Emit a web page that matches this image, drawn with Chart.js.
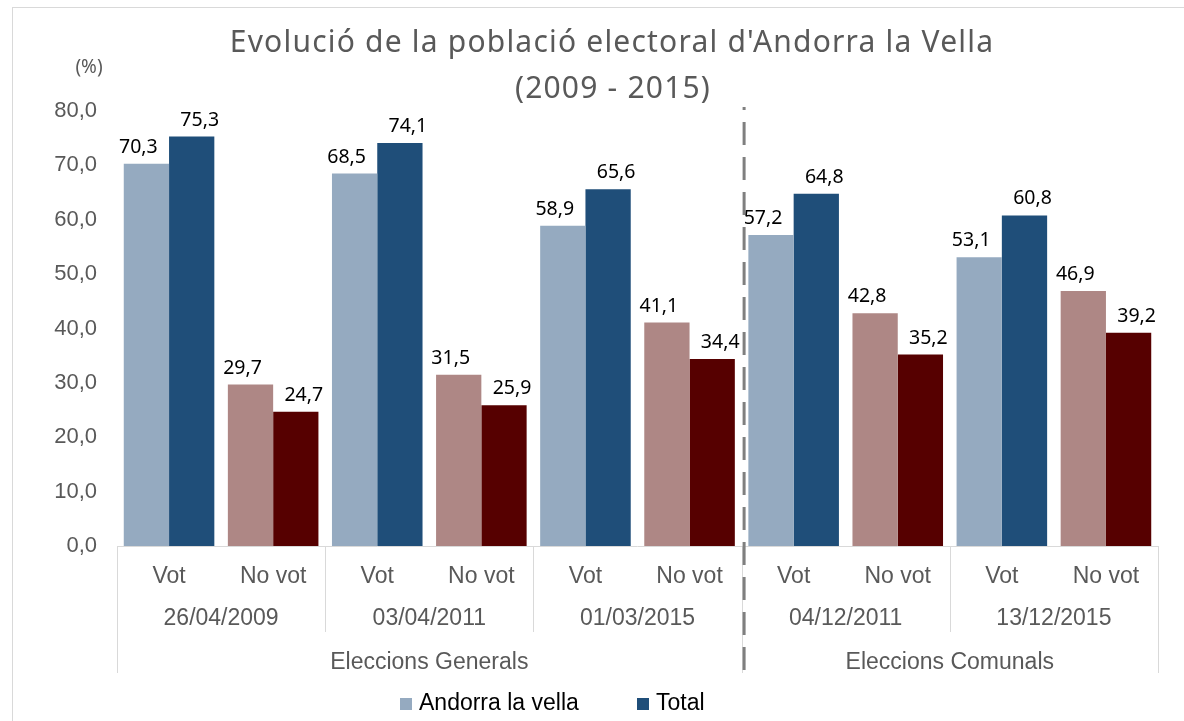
<!DOCTYPE html>
<html>
<head>
<meta charset="utf-8">
<script src="https://cdn.jsdelivr.net/npm/chart.js@4.4.1/dist/chart.umd.min.js"></script>
<style>
  html, body { margin: 0; padding: 0; background: #ffffff; }
  #wrap { width: 1184px; height: 721px; position: relative; }
</style>
</head>
<body>
<div id="wrap"><canvas id="c" width="1184" height="721"></canvas></div>
<script>
// ---- Data ----
const titleLines = ["Evolució de la població electoral d'Andorra la Vella", "(2009 - 2015)"];
const unitLabel = "(%)";
const kinds = ["Vot", "No vot"];
const dates = ["26/04/2009", "03/04/2011", "01/03/2015", "04/12/2011", "13/12/2015"];
const groups = ["Eleccions Generals", "Eleccions Comunals"];
const datesPerGroup = [3, 2];
const seriesNames = ["Andorra la vella", "Total"];
const andorraValues = [70.3, 29.7, 68.5, 31.5, 58.9, 41.1, 57.2, 42.8, 53.1, 46.9];
const totalValues = [75.3, 24.7, 74.1, 25.9, 65.6, 34.4, 64.8, 35.2, 60.8, 39.2];
const yMin = 0, yMax = 80, yStep = 10;

// ---- Styles ----
const colVotA = "#95AAC0", colVotT = "#1F4E79";
const colNoA = "#AE8785", colNoT = "#560000";
const grayText = "#595959";
const lineGray = "#D9D9D9";

const categories = [];
dates.forEach(d => kinds.forEach(k => categories.push(k + " " + d)));
const fmt = v => v.toFixed(1).replace(".", ",");

const colorsFor = (vot, no) => categories.map((_, i) => (i % kinds.length === 0 ? vot : no));

const decorPlugin = {
  id: "decor",
  beforeDraw(chart) {
    const ctx = chart.ctx;
    ctx.save();
    ctx.fillStyle = "#ffffff";
    ctx.fillRect(0, 0, chart.width, chart.height);
    ctx.strokeStyle = lineGray;
    ctx.lineWidth = 1;
    ctx.strokeRect(12.5, 7.5, chart.width + 50, chart.height + 50);
    ctx.restore();
  },
  afterDatasetsDraw(chart) {
    const ctx = chart.ctx;
    const xs = chart.scales.x, ys = chart.scales.y;
    const area = chart.chartArea;
    const n = categories.length;
    const cw = (xs.right - xs.left) / n;
    const edge = i => xs.getPixelForValue(0) - cw / 2 + i * cw;
    const y0 = ys.getPixelForValue(0);
    ctx.save();

    // x axis line
    ctx.strokeStyle = lineGray;
    ctx.lineWidth = 1;
    ctx.beginPath();
    ctx.moveTo(area.left, Math.round(y0) + 0.5);
    ctx.lineTo(area.right, Math.round(y0) + 0.5);
    ctx.stroke();

    // separators
    const outerBottom = 673, dateBottom = 632;
    const groupEdges = [0];
    let acc = 0;
    datesPerGroup.forEach(g => { acc += g * kinds.length; groupEdges.push(acc); });
    for (let d = 0; d <= dates.length; d++) {
      const idx = d * kinds.length;
      const isGroup = groupEdges.includes(idx);
      const x = Math.round(edge(idx)) + 0.5;
      ctx.beginPath();
      ctx.moveTo(x, y0);
      ctx.lineTo(x, isGroup ? outerBottom : dateBottom);
      ctx.stroke();
    }

    // category labels
    ctx.fillStyle = grayText;
    ctx.font = "23px 'Liberation Sans', Arial, sans-serif";
    ctx.textAlign = "center";
    ctx.textBaseline = "middle";
    categories.forEach((c, i) => {
      ctx.fillText(kinds[i % kinds.length], xs.getPixelForValue(i), 577);
    });
    dates.forEach((d, j) => {
      const x = (edge(j * kinds.length) + edge((j + 1) * kinds.length)) / 2;
      ctx.fillText(d, x, 619);
    });
    let start = 0;
    groups.forEach((g, k) => {
      const end = start + datesPerGroup[k] * kinds.length;
      ctx.fillText(g, (edge(start) + edge(end)) / 2, 663);
      start = end;
    });

    // dashed divider between groups
    const divX = edge(groupEdges[1]) + 2.5;
    ctx.strokeStyle = "#7F7F7F";
    ctx.lineWidth = 3;
    ctx.setLineDash([23, 12]);
    ctx.lineDashOffset = 20;
    ctx.beginPath();
    ctx.moveTo(divX, 107);
    ctx.lineTo(divX, outerBottom);
    ctx.stroke();
    ctx.setLineDash([]);

    // data labels
    ctx.fillStyle = "#000000";
    ctx.font = "19.5px 'Noto Sans', sans-serif";
    ctx.textBaseline = "alphabetic";
    chart.data.datasets.forEach((ds, di) => {
      const meta = chart.getDatasetMeta(di);
      meta.data.forEach((bar, i) => {
        const shift = di === 0 ? -8 : 8;
        ctx.fillText(fmt(ds.data[i]), bar.x + shift, bar.y - 11);
      });
    });

    // title
    ctx.fillStyle = grayText;
    ctx.font = "30px 'Noto Sans', sans-serif";
    ctx.textBaseline = "alphabetic";
    try { ctx.letterSpacing = "1.2px"; } catch (e) {}
    ctx.fillText(titleLines[0], 612, 52);
    ctx.fillText(titleLines[1], 613, 98);
    try { ctx.letterSpacing = "0px"; } catch (e) {}

    // unit
    ctx.font = "19px 'Noto Sans', sans-serif";
    ctx.textBaseline = "middle";
    ctx.fillText(unitLabel, 89, 68);

    // legend
    const legendItems = [[seriesNames[0], colVotA, 400], [seriesNames[1], colVotT, 637]];
    ctx.font = "23px 'Liberation Sans', Arial, sans-serif";
    ctx.textAlign = "left";
    legendItems.forEach(([name, col, x]) => {
      ctx.fillStyle = col;
      ctx.fillRect(x, 698, 12, 12);
      ctx.fillStyle = "#000000";
      ctx.fillText(name, x + 19, 704);
    });
    ctx.restore();
  }
};

new Chart(document.getElementById("c"), {
  type: "bar",
  data: {
    labels: categories,
    datasets: [
      { label: seriesNames[0], data: andorraValues, backgroundColor: colorsFor(colVotA, colNoA), borderWidth: 0 },
      { label: seriesNames[1], data: totalValues, backgroundColor: colorsFor(colVotT, colNoT), borderWidth: 0 }
    ]
  },
  options: {
    responsive: false,
    animation: false,
    events: [],
    layout: { padding: { top: 111, bottom: 175, left: 0, right: 26 } },
    datasets: { bar: { categoryPercentage: 0.87, barPercentage: 1.0 } },
    plugins: { legend: { display: false }, title: { display: false }, tooltip: { enabled: false } },
    scales: {
      x: {
        ticks: { display: false },
        grid: { display: false, drawTicks: false },
        border: { display: false },
        afterFit: s => { s.height = 0; }
      },
      y: {
        min: yMin, max: yMax,
        ticks: {
          stepSize: yStep, padding: 20, color: grayText,
          font: { family: "'Liberation Sans', Arial, sans-serif", size: 22 },
          callback: v => fmt(v)
        },
        grid: { display: false, drawTicks: false },
        border: { display: false },
        afterFit: s => { s.width = 117; }
      }
    }
  },
  plugins: [decorPlugin]
});
</script>
</body>
</html>
